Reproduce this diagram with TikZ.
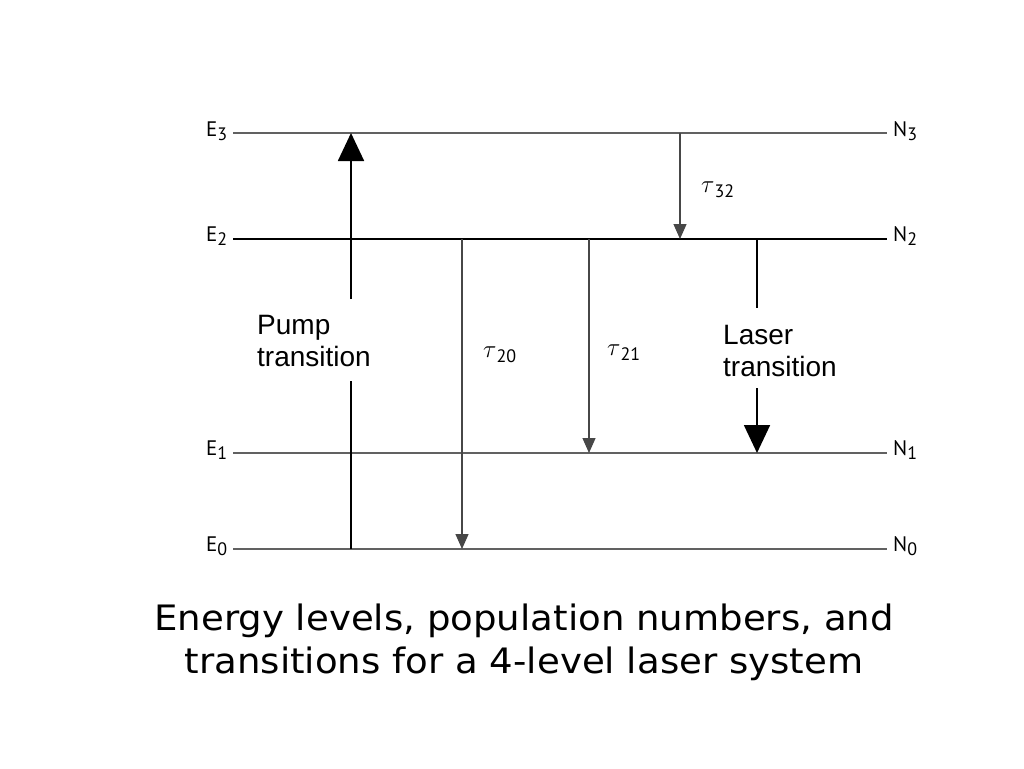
\documentclass[tikz,border=0pt]{standalone}
\usepackage{fontspec}
\setmainfont[FakeStretch=1.06]{DejaVu Sans}
\newfontfamily\lblfont{Liberation Sans}
\newfontfamily\lvlfont{PT Sans}
\usetikzlibrary{arrows.meta}
\begin{document}
\begin{tikzpicture}[x=1pt,y=-1pt,
  level/.style={line width=1.6pt,draw=black!62},
  levelk/.style={line width=1.6pt,draw=black},
  lvllab/.style={inner sep=0pt,anchor=base west,font=\lvlfont\fontsize{21}{21}\selectfont},
  taularr/.style={line width=1.3pt,draw=black!72,-{Triangle[width=13pt,length=15pt]}},
  bigarr/.style={line width=1.8pt,draw=black},
  bighead/.style={-{Triangle[width=26pt,length=28pt]}},
  trlab/.style={inner sep=0pt,anchor=base west,align=left,font=\lblfont\fontsize{28}{32}\selectfont},
  taulab/.style={inner sep=0pt,anchor=base west,font=\fontsize{30}{30}\selectfont}
]
\useasboundingbox[fill=white] (0,0) rectangle (1024,768);
% level ends
\coordinate (E3l) at (233,133); \coordinate (E3r) at (887,133);
\coordinate (E2l) at (233,239); \coordinate (E2r) at (887,239);
\coordinate (E1l) at (233,453); \coordinate (E1r) at (887,453);
\coordinate (E0l) at (233,549); \coordinate (E0r) at (887,549);
\draw[level]  (E3l) -- (E3r);
\draw[levelk] (E2l) -- (E2r);
\draw[level]  (E1l) -- (E1r);
\draw[level]  (E0l) -- (E0r);
% level labels
\node[lvllab] (lE3) at (206,136) {E\raisebox{-4pt}{\fontsize{18}{18}\selectfont 3}};
\node[lvllab] (lE2) at (206,241) {E\raisebox{-4pt}{\fontsize{18}{18}\selectfont 2}};
\node[lvllab] (lE1) at (206,455) {E\raisebox{-4pt}{\fontsize{18}{18}\selectfont 1}};
\node[lvllab] (lE0) at (206,551) {E\raisebox{-4pt}{\fontsize{18}{18}\selectfont 0}};
\node[lvllab] (lN3) at (893,136) {N\raisebox{-4pt}{\fontsize{18}{18}\selectfont 3}};
\node[lvllab] (lN2) at (893,241) {N\raisebox{-4pt}{\fontsize{18}{18}\selectfont 2}};
\node[lvllab] (lN1) at (893,455) {N\raisebox{-4pt}{\fontsize{18}{18}\selectfont 1}};
\node[lvllab] (lN0) at (893,551) {N\raisebox{-4pt}{\fontsize{18}{18}\selectfont 0}};
% pump transition
\coordinate (pB) at (351,549); \coordinate (pT) at (351,133);
\coordinate (pg1) at (351,381); \coordinate (pg2) at (351,299);
\node[trlab] (pump) at (257,366) {Pump\\transition};
\draw[bigarr] (pB) -- (pg1);
\draw[bigarr,bighead] (pg2) -- (pT);
% laser transition
\coordinate (lT) at (757,239); \coordinate (lB) at (757,453);
\coordinate (lg1) at (757,308); \coordinate (lg2) at (757,388);
\node[trlab] (laser) at (723,376) {Laser\\transition};
\draw[bigarr] (lT) -- (lg1);
\draw[bigarr,bighead] (lg2) -- (lB);
% decay transitions
\coordinate (t32a) at (680,133); \coordinate (t32b) at (680,239);
\coordinate (t20a) at (462,239); \coordinate (t20b) at (462,549);
\coordinate (t21a) at (589,239); \coordinate (t21b) at (589,453);
\draw[taularr] (t32a) -- (t32b);
\draw[taularr] (t20a) -- (t20b);
\draw[taularr] (t21a) -- (t21b);
\node[taulab] (tau32) at (701,192) {$\tau$\raisebox{-5pt}{\lvlfont\fontsize{18}{18}\selectfont 32}};
\node[taulab] (tau20) at (483,357) {$\tau$\raisebox{-5pt}{\lvlfont\fontsize{18}{18}\selectfont 20}};
\node[taulab] (tau21) at (607,355) {$\tau$\raisebox{-5pt}{\lvlfont\fontsize{18}{18}\selectfont 21}};
% caption
\node[inner sep=0pt,align=center,font=\fontsize{35}{43}\selectfont,anchor=base] (cap) at (524,673)
  {Energy levels, population numbers, and\\transitions for a 4-level laser system};
\end{tikzpicture}
\end{document}
